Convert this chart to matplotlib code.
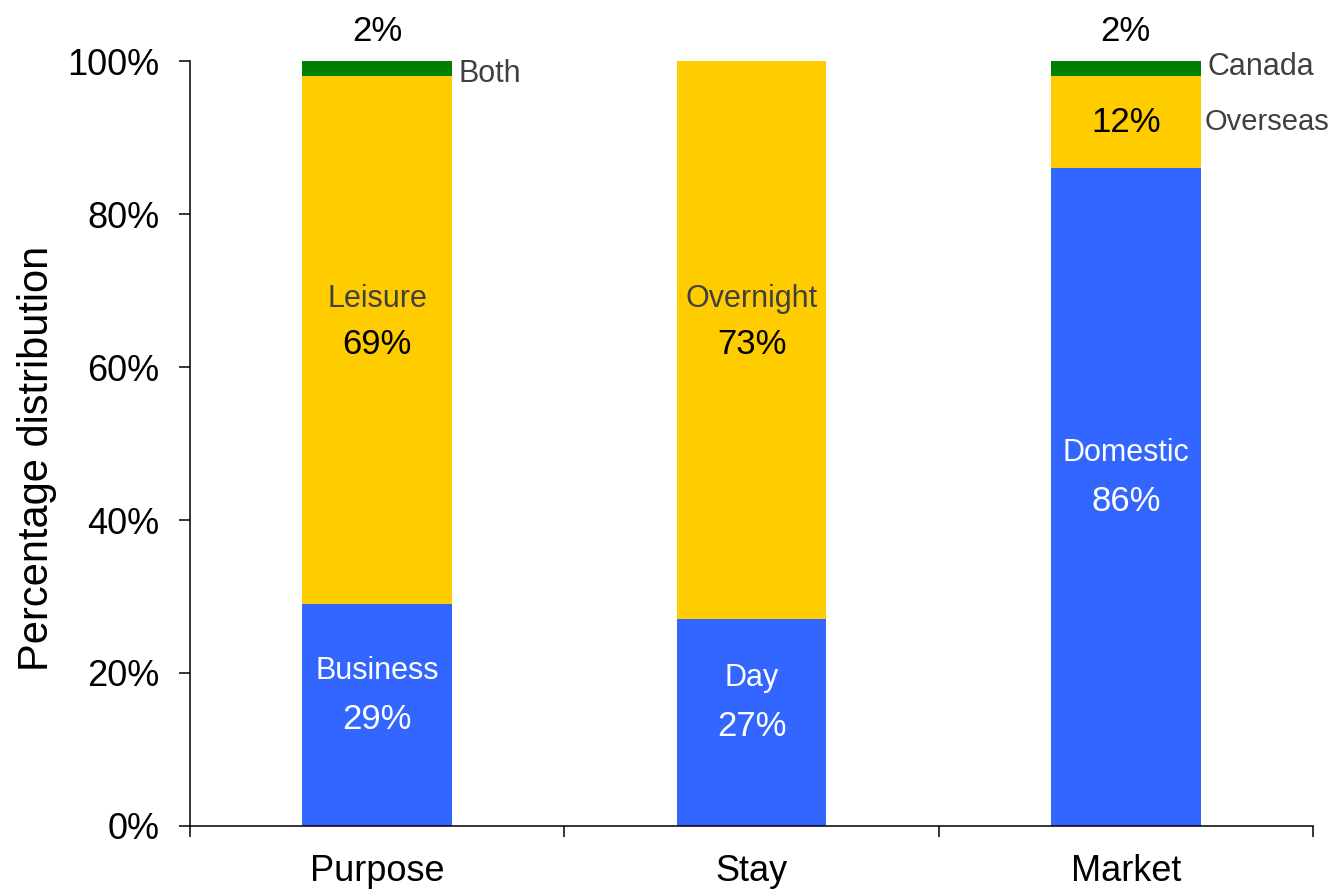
import numpy as np
import matplotlib.pyplot as plt

categories = ['Purpose', 'Stay', 'Market']
bottom_names = ['Business', 'Day', 'Domestic']
bottom_vals = [29, 27, 86]
mid_names = ['Leisure', 'Overnight', 'Overseas']
mid_vals = [69, 73, 12]
top_names = ['Both', None, 'Canada']
top_vals = [2, 0, 2]

blue = '#3366FF'
yellow = '#FFCC00'
green = '#008000'
grey = '#404040'
narrow = ['Liberation Sans Narrow', 'Liberation Sans', 'DejaVu Sans']

plt.rcParams['font.family'] = ['Liberation Sans', 'DejaVu Sans']

fig = plt.figure(figsize=(13.39, 8.92), dpi=100)
ax = fig.add_axes([0.1419, 0.074, 0.8387, 0.8576])

x = np.arange(len(categories))
w = 0.4
b = np.array(bottom_vals)
m = np.array(mid_vals)
t = np.array(top_vals)
ax.bar(x, b, w, color=blue)
ax.bar(x, m, w, bottom=b, color=yellow)
ax.bar(x, t, w, bottom=b + m, color=green)

for i in range(len(categories)):
    # bottom segment: name + value
    mid = b[i] / 2
    ax.annotate(bottom_names[i], (x[i], mid), xytext=(0, 32), textcoords='offset points',
                ha='center', va='center', color='white', fontsize=22, family=narrow)
    ax.annotate(f'{b[i]}%', (x[i], mid), xytext=(0, -3), textcoords='offset points',
                ha='center', va='center', color='white', fontsize=25)
    # middle segment
    mid = b[i] + m[i] / 2
    if m[i] > 20:
        ax.annotate(mid_names[i], (x[i], mid), xytext=(0, 30), textcoords='offset points',
                    ha='center', va='center', color=grey, fontsize=22, family=narrow)
        ax.annotate(f'{m[i]}%', (x[i], mid), xytext=(0, -3), textcoords='offset points',
                    ha='center', va='center', color='black', fontsize=25)
    else:
        ax.annotate(f'{m[i]}%', (x[i], mid), ha='center', va='center', color='black', fontsize=25)
        ax.annotate(mid_names[i], (x[i] + w / 2, mid), xytext=(3, 0), textcoords='offset points',
                    ha='left', va='center', color=grey, fontsize=21, family=narrow)
    # top segment
    if t[i] > 0:
        top = b[i] + m[i] + t[i]
        ax.annotate(f'{t[i]}%', (x[i], top), xytext=(0, 21), textcoords='offset points',
                    ha='center', va='center', color='black', fontsize=25)
        ax.annotate(top_names[i], (x[i] + w / 2, top - t[i] / 2), xytext=(5, 1 if i == 2 else -4),
                    textcoords='offset points', ha='left', va='center', color=grey,
                    fontsize=22, family=narrow)

ax.set_xlim(-0.5, 2.5)
ax.set_ylim(0, 100)
ax.set_yticks(np.arange(0, 101, 20))
ax.set_yticklabels([f'{v}%' for v in range(0, 101, 20)])
ax.set_xticks(x)
ax.set_xticklabels(categories)
ax.set_xticks([-0.5, 0.5, 1.5, 2.5], minor=True)
ax.tick_params(axis='x', which='major', length=0, pad=20, labelsize=26)
ax.tick_params(axis='x', which='minor', length=8, width=1.1, direction='out')
ax.tick_params(axis='y', length=8, width=1.1, direction='out', pad=14, labelsize=26)
ax.set_ylabel('Percentage distribution', fontsize=30)
ax.yaxis.set_label_coords(-0.118, 0.48)
for s in ['top', 'right']:
    ax.spines[s].set_visible(False)
for s in ['left', 'bottom']:
    ax.spines[s].set_linewidth(1.1)

fig.savefig('out.png', dpi=100)
